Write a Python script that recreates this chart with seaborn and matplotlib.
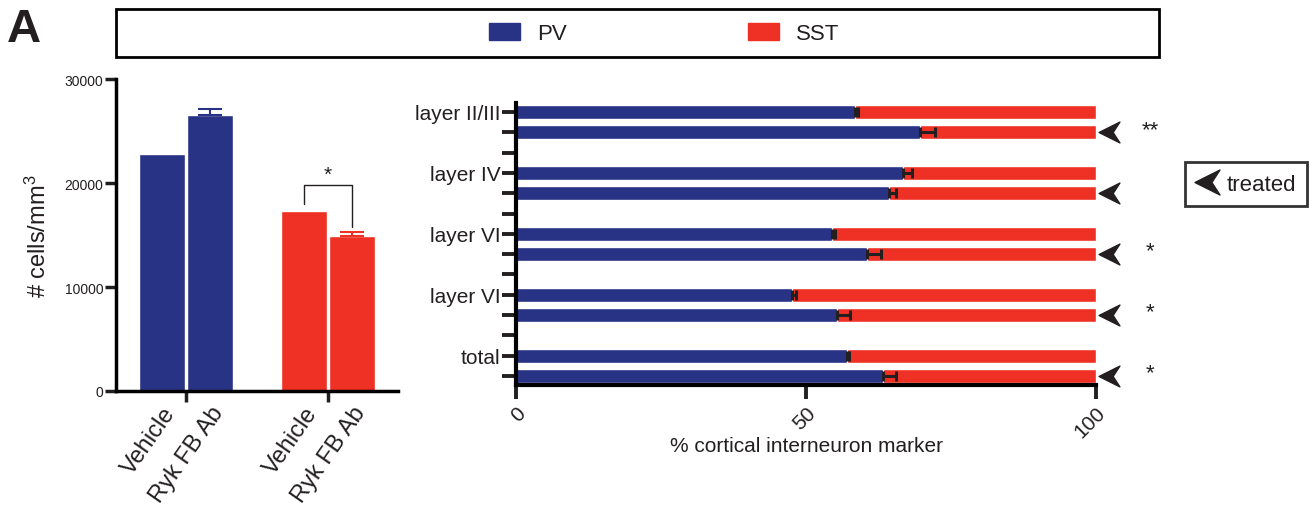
import numpy as np
import pandas as pd
import matplotlib
matplotlib.use('Agg')
import matplotlib.pyplot as plt
from matplotlib.path import Path
from matplotlib.patches import Patch, Rectangle
from matplotlib.lines import Line2D
import seaborn as sns

# left panel: cell density (cells/mm^3)
cell_types = ['PV', 'SST']
treatments = ['Vehicle', 'Ryk FB Ab']
density_pv = [22800, 26550]
density_sst = [17300, 14900]
density_err_pv = [0, 600]
density_err_sst = [0, 380]

# right panel: % PV per layer, SST fills the rest up to 100
layers = ['layer II/III', 'layer IV', 'layer VI', 'layer VI', 'total']
pv_vehicle = [58.4, 66.8, 54.5, 47.5, 57.0]
pv_vehicle_err = [0.5, 1.4, 0.5, 0.8, 0.4]
pv_treated = [69.7, 64.3, 60.5, 55.3, 63.3]
pv_treated_err = [2.5, 1.3, 2.4, 2.3, 2.3]
stars = ['**', '', '*', '*', '*']

BLUE = '#293385'
RED = '#EE3124'
INK = '#231f20'

sns.set_style('ticks')
plt.rcParams['font.family'] = ['Liberation Sans', 'DejaVu Sans']
plt.rcParams['mathtext.default'] = 'regular'
for k in ['text.color', 'axes.labelcolor', 'xtick.color', 'ytick.color']:
    plt.rcParams[k] = INK

# arrowhead marker pointing left
arrow = Path([(-1, 0), (1, 1), (0.35, 0), (1, -1), (-1, 0)],
             [Path.MOVETO, Path.LINETO, Path.LINETO, Path.LINETO, Path.CLOSEPOLY])

fig = plt.figure(figsize=(13.1, 5.06), dpi=100)
W, H = 1310, 506

# ---------------- left panel ----------------
dens = pd.DataFrame({
    'cell': ['PV', 'PV', 'SST', 'SST'],
    'treatment': treatments * 2,
    'density': density_pv + density_sst,
    'err': density_err_pv + density_err_sst,
})

ax1 = fig.add_axes([116 / W, 1 - 392 / H, 282 / W, 312 / H])
for cell, col in zip(cell_types, [BLUE, RED]):
    sub = dens[dens.cell == cell]
    sns.barplot(data=sub, x='cell', y='density', hue='treatment',
                order=cell_types, hue_order=treatments,
                palette={t: col for t in treatments}, saturation=1,
                width=0.68, gap=0.06, errorbar=None, legend=False, ax=ax1)

centers = [p.get_x() + p.get_width() / 2 for p in ax1.patches]
colors = [BLUE, BLUE, RED, RED]
for xc, (_, row), col in zip(centers, dens.iterrows(), colors):
    if row.err > 0:
        ax1.errorbar(xc, row.density, yerr=[[0], [row.err]], fmt='none',
                     ecolor=col, elinewidth=1.5, capsize=8.5, capthick=1.5)

# significance bracket between SST bars
h0, h1 = density_sst
y_left = h0 + 700
y_right = h1 + density_err_sst[1] + 480
y_top = y_left + 1850
ax1.plot([centers[2], centers[2], centers[3], centers[3]],
         [y_left, y_top, y_top, y_right], color=INK, lw=1)
ax1.text((centers[2] + centers[3]) / 2, y_top + 500, '*', ha='center',
         va='baseline', fontsize=15)

ax1.set_xlim(-0.493, 1.493)
ax1.set_ylim(0, 30000)
ax1.set_yticks([0, 10000, 20000, 30000])
ax1.set_xticks([0, 1], ['', ''])
ax1.set_xticks(centers, treatments * 2, minor=True)
ax1.tick_params(axis='x', which='minor', length=0, labelsize=17,
                labelrotation=55, pad=8)
ax1.tick_params(axis='x', which='major', length=8, width=2.5)
ax1.tick_params(axis='y', length=8, width=2.5, labelsize=10, pad=1)
plt.setp(ax1.get_xticklabels(minor=True), ha='right', rotation_mode='anchor')
ax1.set_xlabel('')
ax1.set_ylabel('# cells/mm$^3$', fontsize=17, labelpad=10)
sns.despine(ax=ax1)
for s in ['left', 'bottom']:
    ax1.spines[s].set_linewidth(2.5)
    ax1.spines[s].set_color('black')

# ---------------- right panel ----------------
pos_vehicle = np.arange(len(layers)) * 3
pos_treated = pos_vehicle + 1
frac = pd.DataFrame({
    'pos': np.concatenate([pos_vehicle, pos_treated]),
    'pv': pv_vehicle + pv_treated,
    'err': pv_vehicle_err + pv_treated_err,
})
frac['total'] = 100

ax2 = fig.add_axes([516 / W, 1 - 386 / H, 580 / W, 282 / H])
sns.barplot(data=frac, x='total', y='pos', orient='y', native_scale=True,
            color=RED, saturation=1, width=0.7, errorbar=None, ax=ax2)
sns.barplot(data=frac, x='pv', y='pos', orient='y', native_scale=True,
            color=BLUE, saturation=1, width=0.7, errorbar=None, ax=ax2)
ax2.errorbar(frac.pv, frac.pos, xerr=[np.zeros(len(frac)), frac.err],
             fmt='none', ecolor=INK, elinewidth=2.2, capsize=3.3, capthick=2.2)

ax2.plot(np.full(len(layers), 102.2), pos_treated, ls='none', marker=arrow,
         ms=15, color=INK, clip_on=False)
for p, s in zip(pos_treated, stars):
    if s:
        ax2.text(109.3, p + 0.12, s, ha='center', va='baseline', fontsize=16)

ax2.set_xlim(0, 100)
ax2.set_ylim(pos_treated[-1] + 0.443, -0.443)
ax2.set_xticks([0, 50, 100])
all_pos = np.arange(pos_treated[-1] + 1)
ylabels = ['' for _ in all_pos]
for p, lab in zip(pos_vehicle, layers):
    ylabels[p] = lab
ax2.set_yticks(all_pos, ylabels)
ax2.tick_params(axis='y', length=10, width=2.8, labelsize=15, pad=1)
ax2.tick_params(axis='x', length=10, width=2.8, labelsize=15, labelrotation=45, pad=3)
plt.setp(ax2.get_xticklabels(), ha='right', rotation_mode='anchor')
ax2.set_ylabel('')
ax2.set_xlabel('% cortical interneuron marker', fontsize=15, labelpad=-4)
sns.despine(ax=ax2)
for s in ['left', 'bottom']:
    ax2.spines[s].set_linewidth(3)
    ax2.spines[s].set_color('black')

# ---------------- legends / labels ----------------
fig.add_artist(Rectangle((116 / W, 1 - 58 / H), (1159 - 116) / W, 48 / H,
                         transform=fig.transFigure, fill=False, lw=2, ec='black'))
fig.legend(handles=[Patch(color=BLUE), Patch(color=RED)], labels=cell_types,
           ncol=2, frameon=False, loc='center', bbox_to_anchor=(664 / W, 1 - 34.5 / H),
           fontsize=16, handlelength=1.4, handleheight=0.77, handletextpad=0.77,
           columnspacing=8.15)

leg = fig.legend(handles=[Line2D([], [], ls='none', marker=arrow, ms=18, color=INK)],
                 labels=['treated'], loc='center', bbox_to_anchor=(1246 / W, 1 - 185 / H),
                 frameon=True, fancybox=False, edgecolor='black', fontsize=16,
                 handlelength=1.0, handletextpad=0.35, borderpad=0.5)
leg.get_frame().set_linewidth(2)

fig.text(7 / W, 1 - 8 / H, 'A', fontsize=34, fontweight='bold', va='top', ha='left')

fig.savefig('out.png', dpi=100)
